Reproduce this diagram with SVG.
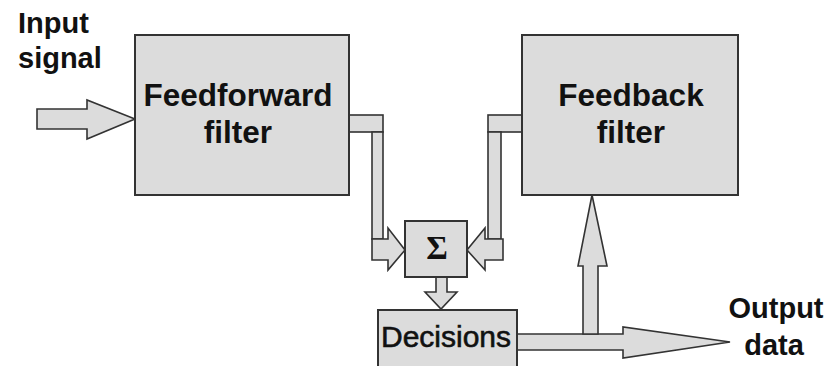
<svg xmlns="http://www.w3.org/2000/svg" width="829" height="366" viewBox="0 0 829 366">
  <style>
    .box { fill: #dcdcdc; stroke: #333333; stroke-width: 2; }
    .pipe { fill: #dcdcdc; stroke: #333333; stroke-width: 1.6; stroke-linejoin: miter; }
    .lbl { font-family: "Liberation Sans", Arial, sans-serif; font-weight: bold; fill: #111111; }
    .reg { font-family: "Liberation Sans", Arial, sans-serif; fill: #111111; stroke: #111111; stroke-width: 0.6; }
  </style>
  <rect width="829" height="366" fill="#ffffff"/>

  <!-- connectors (broad block arrows) -->
  <g id="connectors">
    <!-- input signal into feedforward filter -->
    <polygon class="pipe" points="37,109 87,109 87,100 135,119 87,139 87,129 37,129"/>
    <!-- feedforward output down to summer -->
    <rect class="pipe" x="349" y="115" width="34" height="17"/>
    <rect class="pipe" x="372" y="132" width="11" height="107"/>
    <polygon class="pipe" points="372,239 388,239 388,228 405,250 388,270 388,260 372,260"/>
    <!-- feedback output down to summer -->
    <rect class="pipe" x="488" y="115" width="34" height="17"/>
    <rect class="pipe" x="488" y="132" width="13" height="107"/>
    <polygon class="pipe" points="503,239 485,239 485,228 467,250 485,270 485,260 503,260"/>
    <!-- summer to decisions -->
    <polygon class="pipe" points="436,277 447,277 447,292 457,292 441,309 425,292 436,292"/>
    <!-- decisions to output data -->
    <polygon class="pipe" points="517,334 623,334 623,327 730,342 623,358 623,350 517,350"/>
    <!-- tap back up to feedback filter -->
    <polygon class="pipe" points="583,334 583,266 578,266 592,195 607,266 598,266 598,334"/>
  </g>

  <g id="input-label">
    <text class="lbl" x="18" y="33" font-size="29">Input</text>
    <text class="lbl" x="18" y="68" font-size="29">signal</text>
  </g>

  <g id="feedforward">
    <rect class="box" x="135" y="35" width="214" height="160"/>
    <text class="lbl" x="238" y="106" font-size="31.5" text-anchor="middle">Feedforward</text>
    <text class="lbl" x="238" y="143" font-size="31.5" text-anchor="middle">filter</text>
  </g>

  <g id="feedback">
    <rect class="box" x="522" y="35" width="216" height="160"/>
    <text class="lbl" x="631" y="106" font-size="31.5" text-anchor="middle">Feedback</text>
    <text class="lbl" x="631" y="143" font-size="31.5" text-anchor="middle">filter</text>
  </g>

  <g id="summer">
    <rect class="box" x="405" y="221" width="62" height="56"/>
    <text x="437" y="259" font-size="33" font-weight="bold" text-anchor="middle" font-family="'Liberation Serif', 'Times New Roman', serif" fill="#111111">Σ</text>
  </g>

  <g id="decisions">
    <rect class="box" x="378" y="310" width="139" height="64"/>
    <text class="reg" x="446" y="347" font-size="30" text-anchor="middle">Decisions</text>
  </g>

  <g id="output-label">
    <text class="lbl" x="776" y="318" font-size="29" text-anchor="middle">Output</text>
    <text class="lbl" x="774" y="355" font-size="29" text-anchor="middle">data</text>
  </g>
</svg>
